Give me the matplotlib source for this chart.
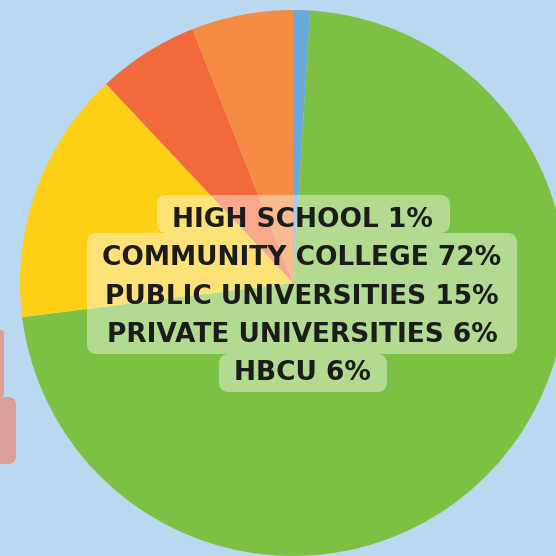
import matplotlib
matplotlib.use("Agg")
import matplotlib.pyplot as plt
from matplotlib.patches import FancyBboxPatch

# share of students by where they started
categories = ["HIGH SCHOOL", "COMMUNITY COLLEGE", "PUBLIC UNIVERSITIES",
              "PRIVATE UNIVERSITIES", "HBCU"]
shares = [1, 72, 15, 6, 6]
colors = ["#6aa9dc", "#7cc143", "#fdd016", "#f26a3b", "#f68b43"]

W = 556
fig = plt.figure(figsize=(5.56, 5.56), dpi=100)
fig.patch.set_facecolor("#bad9f1")
ax = fig.add_axes([0, 0, 1, 1])
ax.set_facecolor("#bad9f1")

# pink tab peeking in on the left edge
ax.add_patch(FancyBboxPatch((-20, W - 397), 24, 67, boxstyle="round,pad=0,rounding_size=3",
                            fc="#d99f99", ec="none"))
ax.add_patch(FancyBboxPatch((-20, W - 464), 36, 67, boxstyle="round,pad=0,rounding_size=8",
                            fc="#d99f99", ec="none"))

ax.pie(shares, colors=colors, startangle=90, counterclock=False,
       center=(293, W - 283), radius=273, frame=True,
       wedgeprops=dict(linewidth=0))

# label backdrop: three stacked rounded boxes (x0, x1, y_top, y_bottom in px from top)
boxes = [(157, 450, 195, 233), (87, 517, 233, 354), (219, 387, 354, 392)]
for x0, x1, yt, yb in boxes:
    ax.add_patch(FancyBboxPatch((x0, W - yb), x1 - x0, yb - yt,
                                boxstyle="round,pad=0,rounding_size=10",
                                fc="white", alpha=0.42, ec="none", zorder=3))

line_y = [220, 258, 297, 335, 373]
for name, val, y in zip(categories, shares, line_y):
    ax.text(302, W - y, f"{name} {val}%", ha="center", va="center",
            fontsize=19, fontweight="bold", color="#1c1c1c",
            family="DejaVu Sans", zorder=4)

ax.set_xlim(0, W)
ax.set_ylim(0, W)
ax.set_aspect("equal")
ax.axis("off")

fig.savefig("out.png", dpi=100, facecolor=fig.get_facecolor())
